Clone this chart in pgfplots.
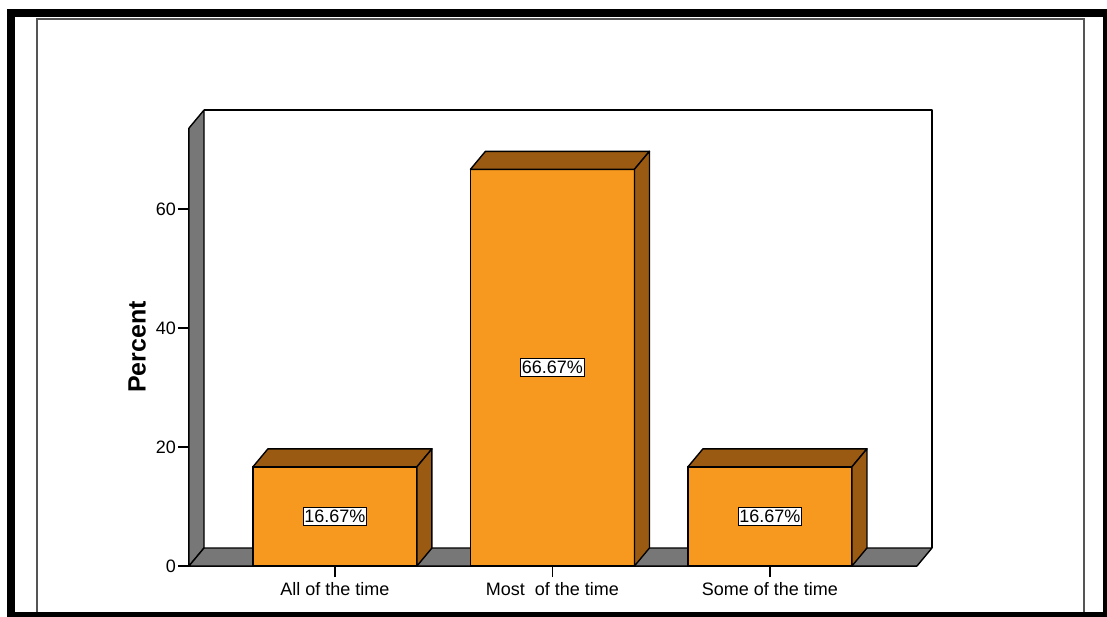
\documentclass[border=0pt]{standalone}
\usepackage{pgfplots}
\pgfplotsset{compat=1.18}
\usepackage{pgfplotstable}
\usepackage{fontspec}
\setmainfont{Liberation Sans}

\definecolor{barfront}{HTML}{F7991E}
\definecolor{barshade}{HTML}{9A5A12}
\definecolor{wallgray}{HTML}{777777}
\definecolor{framegray}{HTML}{555555}

\pgfplotstableread{
x y
0 16.67
1 66.67
2 16.67
}\freqdata

% top and right faces of a bar; the mark sits at the top centre of the front face
\pgfdeclareplotmark{box3d}{%
  \pgfmathsetlengthmacro\barh{\barval*2.975pt}%
  \filldraw[fill=barshade,draw=black,line width=0.7pt,line join=round]
    (-41pt,0pt) -- (41pt,0pt) -- (48.5pt,9pt) -- (-33.5pt,9pt) -- cycle;
  \filldraw[fill=barshade,draw=black,line width=0.7pt,line join=round]
    (41pt,0pt) -- (48.5pt,9pt) -- (48.5pt,9pt-\barh) -- (41pt,-\barh) -- cycle;
}

\begin{document}
\begin{tikzpicture}
\useasboundingbox (0,0) rectangle (553.5pt,308pt);
\fill[white] (0,0) rectangle (553.5pt,308pt);
% frames
\draw[framegray,line width=0.9pt] (18.5pt,-10pt) rectangle (542pt,298.5pt);
\draw[black,line width=3.75pt] (5.5pt,0pt) rectangle (553.5pt,301.5pt);
\begin{axis}[
  at={(94.5pt,25pt)}, anchor=south west,
  x=108.75pt, y=2.975pt,
  xmin=-0.671, xmax=2.676, ymin=0, ymax=73.6,
  enlargelimits=false, clip=false,
  axis x line*=bottom, axis y line*=left,
  axis line style={-, black, line width=0.7pt},
  xtick={0,1,2},
  xticklabels={All of the time, Most\ \ of the time, Some of the time},
  ytick={0,20,40,60},
  tick align=outside, major tick length=5.5pt,
  tick style={black, line width=0.7pt},
  tick label style={font=\fontsize{9}{10}\selectfont, text=black},
  yticklabel style={inner xsep=0.8pt},
  xticklabel style={inner ysep=2.5pt},
  /pgf/number format/assume math mode=true,
  ylabel={Percent},
  every axis y label/.style={at={(rel axis cs:-0.0714,0.5)}, rotate=90, anchor=center,
    font=\bfseries\fontsize{12.5}{14}\selectfont},
]
% left wall, floor and back wall outline
\filldraw[fill=wallgray, draw=black, line width=0.7pt, line join=round]
  (rel axis cs:0,0) -- (rel axis cs:0,1) -- ++(7.5pt,9pt)
  -- ([shift={(7.5pt,9pt)}]rel axis cs:0,0) -- cycle;
\filldraw[fill=wallgray, draw=black, line width=0.7pt, line join=round]
  (rel axis cs:0,0) -- (rel axis cs:1,0) -- ++(7.5pt,9pt)
  -- ([shift={(7.5pt,9pt)}]rel axis cs:0,0) -- cycle;
\draw[black, line width=0.7pt, line join=round]
  ([shift={(7.5pt,9pt)}]rel axis cs:0,1) -- ([shift={(7.5pt,9pt)}]rel axis cs:1,1)
  -- ([shift={(7.5pt,9pt)}]rel axis cs:1,0);

% front faces
\addplot[ybar, bar width=0.754, bar shift=0pt, fill=barfront, draw=black, line width=0.7pt]
  table[x=x,y=y]{\freqdata};
% top and side faces
\addplot[scatter, only marks, mark=box3d,
  visualization depends on={\thisrow{y} \as \barval}]
  table[x=x,y=y]{\freqdata};
% value labels
\addplot[draw=none, mark=none,
  point meta=\thisrow{y},
  nodes near coords={\pgfmathprintnumber[fixed,fixed zerofill,precision=2,assume math mode=true]{\pgfplotspointmeta}\%},
  every node near coord/.append style={anchor=center, fill=white, draw=black,
    line width=0.5pt, inner xsep=0.6pt, inner ysep=1.2pt,
    font=\fontsize{9}{10}\selectfont, text=black}]
  table[x=x, y expr=\thisrow{y}/2]{\freqdata};
\end{axis}
\end{tikzpicture}
\end{document}
